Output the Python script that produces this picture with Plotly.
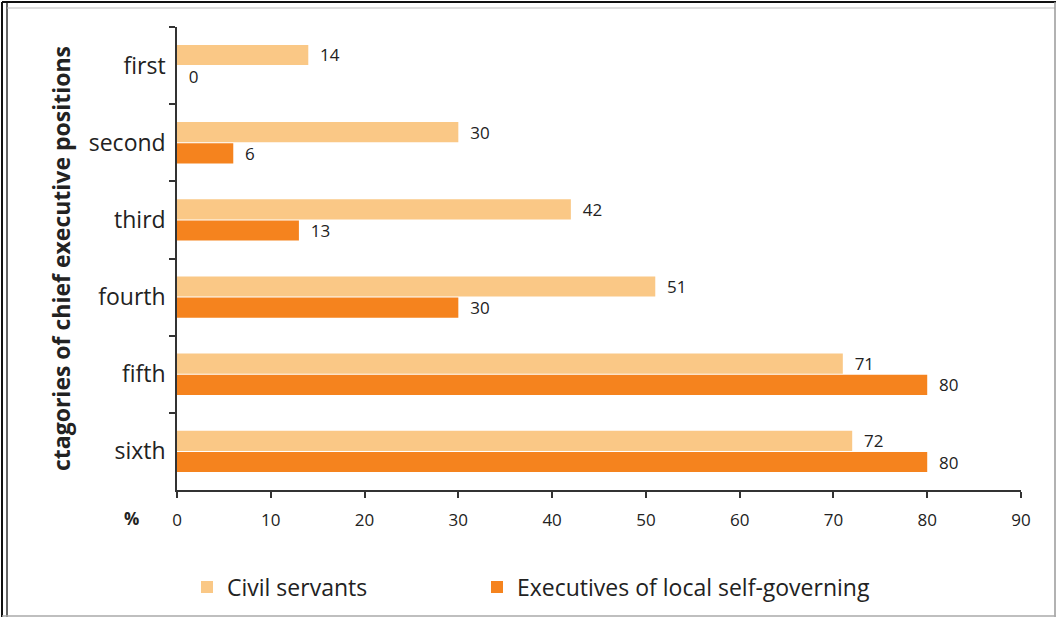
import plotly.graph_objects as go

categories = ["first", "second", "third", "fourth", "fifth", "sixth"]
civil_servants = [14, 30, 42, 51, 71, 72]
executives_local = [0, 6, 13, 30, 80, 80]
series_names = ["Civil servants", "Executives of local self-governing"]
x_ticks = [0, 10, 20, 30, 40, 50, 60, 70, 80, 90]

LIGHT = "#FAC886"
DARK = "#F5831E"
FONT = "Open Sans"

L, R, T, B = 177, 37, 27, 129
W, H = 1058, 619
pw, ph = W - L - R, H - T - B


def px(x):
    return (x - L) / pw


def py(y):
    return (H - B - y) / ph


fig = go.Figure()
fig.add_trace(go.Bar(
    y=categories, x=civil_servants, orientation="h", name=series_names[0],
    marker=dict(color=LIGHT, line=dict(width=0)),
    text=["  " + str(v) for v in civil_servants], textposition="outside",
    constraintext="none",
    textfont=dict(family=FONT, size=17, color="#222"), cliponaxis=False,
    legend="legend",
))
fig.add_trace(go.Bar(
    y=categories, x=executives_local, orientation="h", name=series_names[1],
    marker=dict(color=DARK, line=dict(width=0)),
    text=["  " + str(v) for v in executives_local], textposition="outside",
    constraintext="none",
    textfont=dict(family=FONT, size=17, color="#222"), cliponaxis=False,
    legend="legend2",
))

shapes = [
    dict(type="line", xref="paper", yref="paper", x0=px(2), x1=px(2), y0=py(2), y1=py(617),
         line=dict(color="#111", width=2)),
    dict(type="line", xref="paper", yref="paper", x0=px(7), x1=px(7), y0=py(2), y1=py(617),
         line=dict(color="#333", width=1.5)),
    dict(type="line", xref="paper", yref="paper", x0=px(2), x1=px(1056), y0=py(2), y1=py(2),
         line=dict(color="#111", width=2)),
    dict(type="line", xref="paper", yref="paper", x0=px(7), x1=px(1055), y0=py(8), y1=py(8),
         line=dict(color="#bbb", width=1)),
    dict(type="line", xref="paper", yref="paper", x0=px(1055), x1=px(1055), y0=py(2), y1=py(617),
         line=dict(color="#999", width=1.5)),
    dict(type="line", xref="paper", yref="paper", x0=px(2), x1=px(1056), y0=py(616), y1=py(616),
         line=dict(color="#aaa", width=1.5)),
]

legend_common = dict(orientation="h", xanchor="left", yanchor="middle",
                     font=dict(family=FONT, size=23, color="#222"),
                     bgcolor="rgba(0,0,0,0)")

fig.update_layout(
    width=W, height=H,
    margin=dict(l=L, r=R, t=T, b=B, autoexpand=False),
    paper_bgcolor="white", plot_bgcolor="white",
    barmode="group", bargap=0.45, bargroupgap=0.05,
    font=dict(family=FONT, color="#222"),
    shapes=shapes,
    showlegend=True,
    legend=dict(x=px(187), y=py(587), **legend_common),
    legend2=dict(x=px(477), y=py(587), **legend_common),
    xaxis=dict(range=[0, 90], tickvals=x_ticks, showgrid=False, zeroline=False,
               automargin=False,
               showline=True, linecolor="#333", linewidth=1.5,
               ticks="outside", ticklen=6, tickcolor="#333", tickwidth=1.5,
               tickfont=dict(family=FONT, size=17, color="#222"),
               ticklabelstandoff=8),
    yaxis=dict(autorange="reversed", showgrid=False, zeroline=False,
               automargin=False,
               showline=True, linecolor="#333", linewidth=1.5,
               ticks="outside", ticklen=6, tickcolor="#333", tickwidth=1.5,
               tickson="boundaries",
               tickfont=dict(family=FONT, size=23, color="#222"),
               ticklabelstandoff=5,
               title=dict(text="<b>ctagories of chief executive positions</b>",
                          font=dict(family=FONT, size=23, color="#222"), standoff=12)),
    annotations=[dict(text="<b>%</b>", xref="paper", yref="paper", x=px(131), y=py(518),
                      xanchor="center", yanchor="middle",
                      showarrow=False, font=dict(family=FONT, size=17, color="#222"))],
)

fig.write_html("out.html", config={"displayModeBar": False},
               post_script="document.body.style.margin='0';document.body.style.padding='0';")
